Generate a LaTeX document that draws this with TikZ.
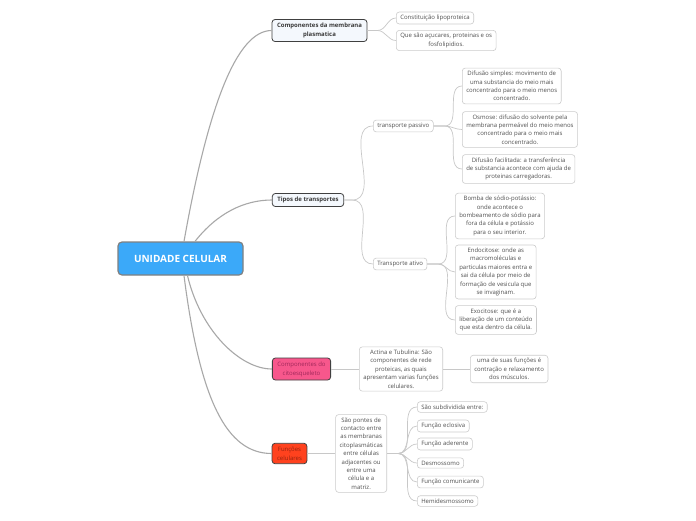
\documentclass[tikz,border=0pt]{standalone}
\usepackage{fontspec}
\setmainfont{Open Sans}
\usepackage{tikz}
\usetikzlibrary{positioning, calc}
\definecolor{rootblue}{RGB}{59,169,249}
\definecolor{rootline}{RGB}{128,128,128}
\definecolor{topicbg}{RGB}{244,248,253}
\definecolor{topicline}{RGB}{64,64,64}
\definecolor{topictext}{RGB}{58,58,58}
\definecolor{citopink}{RGB}{247,87,140}
\definecolor{citotext}{RGB}{160,40,90}
\definecolor{funcred}{RGB}{255,66,30}
\definecolor{functext}{RGB}{150,35,15}
\definecolor{leafline}{RGB}{204,204,204}
\definecolor{leaftext}{RGB}{80,80,80}
\definecolor{linkgray}{RGB}{168,168,168}
\definecolor{sublinkgray}{RGB}{200,200,200}

\begin{document}
\begin{tikzpicture}[
    x=1pt, y=-1pt,
    node distance=28pt,
    rootbox/.style={
      rectangle, rounded corners=4pt, draw=rootline, line width=1.2pt,
      fill=rootblue, text=white, minimum width=125pt, minimum height=33pt,
      font=\fontsize{10}{12}\selectfont\bfseries
    },
    topicbox/.style={
      rectangle, rounded corners=3pt, draw=topicline, line width=0.8pt,
      fill=topicbg, text=topictext, align=center, inner xsep=5pt, inner ysep=3.5pt,
      font=\fontsize{6}{9}\selectfont\bfseries
    },
    citobox/.style={topicbox, fill=citopink, text=citotext,
      font=\fontsize{6}{9}\selectfont},
    funcbox/.style={topicbox, fill=funcred, text=functext,
      font=\fontsize{6}{9}\selectfont},
    leaf/.style={
      rectangle, rounded corners=3pt, draw=leafline, line width=0.6pt,
      fill=white, text=leaftext, align=center, inner xsep=4pt, inner ysep=3pt,
      font=\fontsize{6}{8.4}\selectfont
    },
    mainlink/.style={draw=linkgray, line width=1.1pt},
    sublink/.style={draw=sublinkgray, line width=0.7pt}
  ]

    \useasboundingbox[fill=white] (0,0) rectangle (696,520);

    % Root
    \node[rootbox] (root) at (180.5,258.5) {UNIDADE CELULAR};

    % Main topics
    \node[topicbox] (mem) at (319.5,30.5) {Componentes da membrana\\plasmatica};
    \node[topicbox] (tip) at (308,200) {Tipos de transportes};
    \node[citobox]  (cit) at (301.5,369) {Componentes do\\citoesqueleto};
    \node[funcbox]  (fun) at (289.5,453.5) {Funções\\celulares};

    % Membrana
    \node[leaf, anchor=west] (lip) at (396,18)   {Constituição lipoproteica};
    \node[leaf, anchor=west] (acu) at (396,40.5) {Que são açucares, proteinas e os\\fosfolipidios.};

    % Transportes
    \node[leaf, anchor=west] (pas) at (373,126) {transporte passivo};
    \node[leaf, anchor=west] (ati) at (373,264) {Transporte ativo};

    \node[leaf, anchor=west] (dif) at (462,86)    {Difusão simples: movimento de\\uma substancia do meio mais\\concentrado para o meio menos\\concentrado.};
    \node[leaf, anchor=west] (osm) at (462,129.5) {Osmose: difusão do solvente pela\\membrana permeável do meio menos\\concentrado para o meio mais\\concentrado.};
    \node[leaf, anchor=west] (fac) at (462,169)   {Difusão facilitada: a transferência\\de substancia acontece com ajuda de\\proteinas carregadoras.};

    \node[leaf, anchor=west] (bom) at (455,216) {Bomba de sódio-potássio:\\onde acontece o\\bombeamento de sódio para\\fora da célula e potássio\\para o seu interior.};
    \node[leaf, anchor=west] (edc) at (455,272) {Endocitose: onde as\\macromoléculas e\\particulas maiores entra e\\sai da célula por meio de\\formação de vesicula que\\se invaginam.};
    \node[leaf, anchor=west] (exo) at (455,320) {Exocitose: que é a\\liberação de um conteúdo\\que esta dentro da célula.};

    % Citoesqueleto
    \node[leaf, right=of cit] (act) {Actina e Tubulina: São\\componentes de rede\\proteicas, as quais\\apresentam varias funções\\celulares.};
    \node[leaf, right=27pt of act] (mus) {uma de suas funções é\\contração e relaxamento\\dos músculos.};

    % Funcoes
    \node[leaf, right=of fun] (pon) {São pontes de\\contacto entre\\as membranas\\citoplasmáticas\\entre células\\adjacentes ou\\entre uma\\célula e a\\matriz.};
    \node[leaf, anchor=west] (sub) at (417,407) {São subdividida entre:};
    \node[leaf, anchor=west] (ecl) at (417,426) {Função eclosiva};
    \node[leaf, anchor=west] (ade) at (417,444) {Função aderente};
    \node[leaf, anchor=west] (des) at (417,463) {Desmossomo};
    \node[leaf, anchor=west] (com) at (417,482) {Função comunicante};
    \node[leaf, anchor=west] (hem) at (417,501) {Hemidesmossomo};

    % Root links
    \draw[mainlink] ([xshift=3.5pt]root.north) .. controls +(24,-135) and +(-35,0) .. (mem.west);
    \draw[mainlink] ([xshift=14.5pt]root.north) .. controls +(22,-28) and +(-28,0) .. (tip.west);
    \draw[mainlink] ([xshift=7pt]root.south) .. controls +(13,55) and +(-32,0) .. (cit.west);
    \draw[mainlink] ([xshift=3.5pt]root.south) .. controls +(16,125) and +(-45,0) .. (fun.west);

    % Topic links
    \foreach \c in {lip,acu}
      \draw[sublink] (mem.east) -- ++(10,0) to[out=0,in=180] (\c.west);
    \foreach \c in {pas,ati}
      \draw[sublink] (tip.east) -- ++(8,0) to[out=0,in=180] (\c.west);
    \foreach \c in {dif,osm,fac}
      \draw[sublink] (pas.east) -- ++(11,0) to[out=0,in=180] (\c.west);
    \foreach \c in {bom,edc,exo}
      \draw[sublink] (ati.east) -- ++(11,0) to[out=0,in=180] (\c.west);
    \draw[sublink] (cit) -- (act);
    \draw[sublink] (act) -- (mus);
    \draw[sublink] (fun) -- (pon);
    \foreach \c in {sub,ecl,ade,des,com,hem}
      \draw[sublink] (pon.east) -- ++(11,0) to[out=0,in=180] (\c.west);

  \end{tikzpicture}
\end{document}
